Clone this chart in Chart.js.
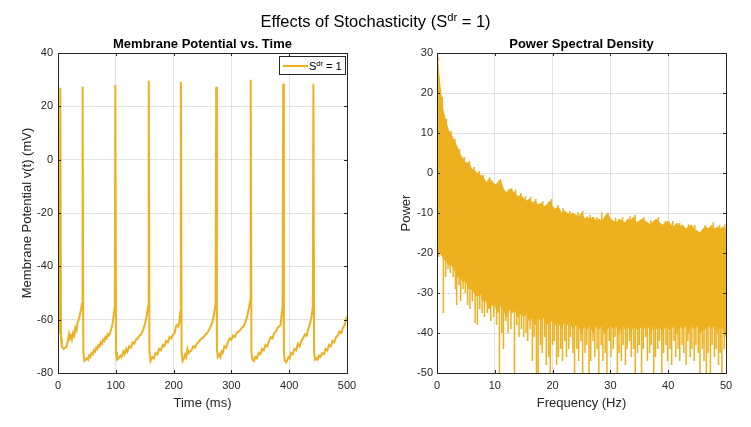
<!DOCTYPE html>
<html>
<head>
<meta charset="utf-8">
<script src="https://cdn.jsdelivr.net/npm/chart.js@4.4.0/dist/chart.umd.min.js"></script>
<style>
  body { margin: 0; background: #fff; font-family: "Liberation Sans", Arial, sans-serif; color: #000; }
  #wrap { position: relative; width: 751px; height: 427px; overflow: hidden; }
  canvas { position: absolute; top: 0; }
  #cv1 { left: 0; }
  #cv2 { left: 375px; }
  .txt { position: absolute; white-space: nowrap; line-height: 1; }
  #title { top: 13px; left: 0; width: 751px; text-align: center; font-size: 16.5px; }
  .sub { top: 37px; font-size: 13px; font-weight: bold; text-align: center; }
  #sub1 { left: 58px; width: 289px; }
  #sub2 { left: 437px; width: 289px; }
  sup { font-size: 0.68em; line-height: 0; vertical-align: 0.5em; }
  #leg { position: absolute; left: 279px; top: 56px; width: 67px; height: 19px; box-sizing: border-box;
         border: 1px solid #262626; background: #fff; font-size: 11px; }
  #leg .ln { position: absolute; left: 3px; top: 8px; width: 25px; height: 1.6px; background: #EDB120; }
  #leg .lt { position: absolute; left: 29px; top: 4px; line-height: 1; }
</style>
</head>
<body>
<div id="wrap">
  <canvas id="cv1" width="375" height="427"></canvas>
  <canvas id="cv2" width="376" height="427"></canvas>
  <div id="title" class="txt">Effects of Stochasticity (S<sup>dr</sup> = 1)</div>
  <div id="sub1" class="txt sub">Membrane Potential vs. Time</div>
  <div id="sub2" class="txt sub">Power Spectral Density</div>
  <div id="leg"><span class="ln"></span><span class="lt">S<sup>dr</sup> = 1</span></div>
</div>
<script>
// membrane potential trace (one line per spike cycle)
const vmTime = [
  0, 1.5, 3, 4, 5.2, 6.5, 8, 10, 13, 15, 17, 19, 20, 22, 24, 26, 28, 30, 32, 34, 36, 38, 40, 41.6, 42.6, 43.8, 45.5,
  48, 50, 52, 54, 56, 58, 60, 62, 64, 66, 68, 70, 72, 74, 76, 78, 80, 82, 84, 86, 88, 90, 92, 94, 96, 98.2, 99.2, 100.4, 102,
  105, 108, 110, 113, 115, 118, 120, 123, 126, 129, 132, 135, 138, 141, 144, 147, 150, 153, 156, 157, 158.2, 160,
  163, 166, 169, 172, 175, 178, 181, 184, 187, 190, 193, 196, 199, 202, 204, 206, 208, 210, 211.6, 212.6, 213.8, 215.5,
  218, 220, 222, 224, 226, 228, 231, 234, 237, 240, 243, 246, 249, 252, 255, 258, 261, 264, 267, 270, 272.7, 273.7, 274.9, 276.5,
  279, 281, 283, 285, 288, 291, 294, 297, 300, 303, 306, 309, 312, 315, 318, 321, 324, 327, 330, 332.4, 333.4, 334.6, 336.3,
  339, 341, 344, 347, 350, 353, 356, 359, 362, 365, 368, 371, 374, 377, 380, 383, 385, 387, 388.6, 389.6, 390.8, 392.5,
  395, 397, 399, 401, 403, 406, 409, 412, 415, 418, 421, 424, 427, 430, 433, 436, 438.5, 440.9, 441.9, 443.1, 444.8,
  447, 449, 451, 454, 457, 460, 463, 466, 469, 472, 475, 478, 481, 484, 487, 490, 493, 496, 498, 500
];
const vmVolt = [
  -65, -62, -56, 27, -67, -70, -70.5, -71, -70.5, -70, -68, -65.5, -67, -66, -67.5, -65, -66, -63, -64, -61, -60, -58, -56, -54, 27.3, -72, -75.5,
  -75, -74.5, -75, -73.5, -74, -72.5, -73, -71.5, -72, -70.5, -71, -69.5, -70, -68.5, -69, -67.5, -68, -66.5, -67, -65.5, -66, -65, -63.5, -62, -59, -55, 28, -72, -75,
  -74.5, -73.5, -74, -72, -73, -71, -72, -70, -70.5, -68.5, -69, -67.5, -67, -66, -65.5, -64, -62, -59, -55, 29.6, -72, -75.5,
  -74, -74.5, -72.5, -73, -71, -71.5, -69.5, -70, -68, -68.5, -66.5, -67, -65.5, -65, -62.5, -62, -62.5, -61, -57, 29.1, -72, -75.5,
  -74.5, -73, -74, -71, -72.5, -72, -71.5, -70, -70.5, -69, -68.5, -67.5, -67, -66.5, -65.5, -65, -64, -62.5, -61, -58, -54, 27.3, -71, -74,
  -73, -74, -72, -72.5, -70, -70.5, -68.5, -67, -67.5, -66, -66.5, -65, -64.5, -64, -63, -62.5, -61, -59, -56, -53, 30, -72, -75,
  -75.5, -74, -74.5, -72.5, -73, -71, -71.5, -69.5, -70, -68, -66.5, -67, -65, -64.5, -63, -62.5, -62, -58, -55, 28.5, -72, -75.5,
  -76, -75, -74, -74.5, -72.5, -73, -71, -71.5, -69, -70, -68, -67, -65.5, -66, -63.5, -61.5, -59, -55, 28.3, -72, -75,
  -74.5, -75, -73.5, -74, -72.5, -73, -71, -71.5, -69.5, -70, -68, -68.5, -66.5, -66, -64.5, -65, -63, -62, -60, -59
];

// power spectrum: upper edge and lower edge of the dense band, every 0.5 Hz from 0 to 50
const psdStep = 0.5;
const psdTop = [
  30, 22, 16, 13, 10.5, 9.5, 8, 6.5, 4.5, 3.5, 2.5, 2.5, 1, 0.5, 0, -0.5, -1, -2.5, -1.5, -2,
  -3, -2.5, -2, -4, -5, -4, -4.5, -5, -6, -5.5, -6.5, -7, -6.5, -7.5, -7, -8, -7.5, -8.5, -8, -7,
  -8.5, -9, -8.5, -10, -9.5, -10, -10.5, -10, -10.5, -11, -10, -11.5, -11, -11.5, -11, -12, -11.5, -12, -11, -10,
  -11.5, -12, -12.5, -11.5, -12, -12.5, -11.5, -12, -11, -12.5, -12, -11.5, -12, -12.5, -13, -12, -11.5, -12.5, -13, -12.5,
  -12, -13, -13.5, -12.5, -13.5, -13, -14, -13.5, -13, -14, -14.5, -15, -14, -13.5, -14, -13, -14, -13.5, -14, -13.5,
  -14
];
const psdBottom = [
  -15, -20, -21, -22, -23, -23, -24, -26, -26, -27, -27, -29, -29, -30, -31, -30, -32, -32, -34, -33,
  -33, -35, -33, -34, -36, -34, -35, -34, -36, -35, -36, -35, -37, -36, -38, -36, -37, -36, -38, -37,
  -37, -38, -37, -39, -37, -38, -37, -39, -38, -38, -40, -38, -39, -38, -40, -38, -39, -38, -40, -39,
  -38, -39, -38, -40, -38, -39, -38, -40, -38, -39, -39, -38, -39, -38, -40, -38, -39, -38, -40, -38,
  -39, -39, -38, -40, -38, -39, -38, -40, -38, -39, -38, -40, -39, -39, -38, -39, -38, -40, -38, -39,
  -41
];
// narrow upward spikes on the top edge of the band: [frequency (Hz), power]
const psdPeaks = [
  [0.2, 29], [0.9, 19], [1.6, 13.5], [2.4, 10.5], [3.1, 8.5], [3.9, 6], [4.7, 4], [5.6, 3], [6.4, 1.5], [7.3, 0.5],
  [8.0, -0.5], [9.1, -1], [10.7, -1.8], [11.0, -1.5], [12.9, -3.8], [13.6, -4.2], [14.5, -5], [15.3, -5.8], [16.2, -6],
  [17.1, -6.5], [18.3, -7], [19.8, -6.5], [20.9, -8], [21.8, -8.8], [23.0, -9.5], [24.4, -9.8], [25.2, -9.5], [26.5, -10.5],
  [27.6, -11], [28.5, -9.8], [29.6, -10], [30.9, -11.2], [32.1, -11], [33.4, -10.8], [34.3, -10.5], [35.8, -11], [37.0, -11.8],
  [38.3, -11], [39.5, -12], [40.8, -12], [42.0, -12.5], [43.5, -12.8], [44.6, -13], [46.4, -13], [47.8, -12.3], [48.9, -13],
  [49.8, -12.8]
];
// narrow downward spikes below the band: [frequency (Hz), power]
const psdDips = [
  [0.3, -21], [0.7, -19], [1.1, -35], [1.5, -26], [1.9, -24], [2.3, -25], [2.8, -26], [3.2, -29], [3.4, -33],
  [3.8, -28], [4.1, -32], [4.5, -29], [4.9, -30], [5.3, -33], [5.7, -34], [6.1, -32], [6.6, -37.5], [7.0, -38],
  [7.4, -34], [7.8, -35], [8.2, -36], [8.7, -35], [9.3, -37], [9.8, -36], [10.3, -38], [10.8, -50], [11.2, -40],
  [11.5, -44], [11.9, -37], [12.3, -40], [12.8, -39], [13.4, -50], [13.8, -38], [14.2, -41], [14.6, -39], [15.0, -41],
  [15.4, -40], [15.7, -42], [16.1, -39], [16.5, -47], [16.8, -41], [17.2, -50], [17.5, -50], [17.9, -43], [18.2, -45],
  [18.6, -41], [18.9, -48], [19.3, -46], [19.6, -50], [20.0, -43], [20.3, -42], [20.7, -48], [21.0, -46], [21.4, -44],
  [21.7, -47], [22.1, -42], [22.4, -46], [22.8, -44], [23.1, -41], [23.5, -45], [23.8, -50], [24.2, -44], [24.5, -47],
  [24.9, -42], [25.2, -50], [25.6, -45], [25.9, -43], [26.3, -50], [26.6, -47], [27.0, -42], [27.3, -46], [27.7, -44],
  [28.0, -50], [28.4, -43], [28.7, -47], [29.1, -45], [29.4, -50], [29.8, -42], [30.1, -46], [30.5, -44], [30.8, -41],
  [31.2, -50], [31.5, -45], [31.9, -47], [32.2, -43], [32.6, -48], [32.9, -44], [33.3, -42], [33.6, -46], [34.0, -44],
  [34.3, -50], [34.7, -45], [35.0, -43], [35.4, -50], [35.7, -44], [36.1, -41], [36.4, -47], [36.8, -45], [37.1, -43],
  [37.5, -50], [37.8, -46], [38.2, -44], [38.5, -42], [38.9, -50], [39.2, -45], [39.6, -43], [39.9, -47], [40.3, -44],
  [40.6, -48], [41.0, -42], [41.3, -46], [41.7, -44], [42.0, -47], [42.4, -43], [42.7, -45], [43.1, -48], [43.4, -42],
  [43.8, -46], [44.1, -44], [44.5, -47], [44.8, -43], [45.2, -45], [45.5, -50], [45.9, -44], [46.2, -47], [46.6, -50],
  [46.9, -45], [47.3, -50], [47.6, -43], [48.0, -46], [48.3, -44], [48.7, -48], [49.0, -45], [49.3, -50], [49.7, -44]
];

const lineColor = '#EDB120';
const tickFont = { family: 'Liberation Sans', size: 11 };
const titleFont = { family: 'Liberation Sans', size: 13 };
const gridColor = 'rgba(0,0,0,0.11)';

// box around the axes with short inward ticks on all four sides
const axesBox = {
  id: 'axesBox',
  afterDraw(chart) {
    const { ctx, chartArea: a, scales } = chart;
    const x = scales.x, y = scales.y;
    ctx.save();
    ctx.strokeStyle = '#262626';
    ctx.lineWidth = 1;
    ctx.beginPath();
    x.ticks.forEach(t => {
      const px = Math.round(x.getPixelForValue(t.value)) + 0.5;
      ctx.moveTo(px, a.bottom); ctx.lineTo(px, a.bottom - 3);
      ctx.moveTo(px, a.top); ctx.lineTo(px, a.top + 3);
    });
    y.ticks.forEach(t => {
      const py = Math.round(y.getPixelForValue(t.value)) + 0.5;
      ctx.moveTo(a.left, py); ctx.lineTo(a.left + 3, py);
      ctx.moveTo(a.right, py); ctx.lineTo(a.right - 3, py);
    });
    ctx.stroke();
    ctx.strokeRect(a.left + 0.5, a.top + 0.5, a.right - a.left, a.bottom - a.top);
    ctx.restore();
  }
};

function axisOptions(o) {
  return {
    x: {
      type: 'linear', min: o.xMin, max: o.xMax,
      afterFit(s) { s.height = 54; },
      grid: { color: gridColor, drawTicks: false },
      border: { display: false },
      ticks: { stepSize: o.xStep, padding: 6, color: '#262626', font: tickFont, maxRotation: 0 },
      title: { display: true, text: o.xTitle, color: '#262626', font: titleFont, padding: { top: 0, bottom: 16 } }
    },
    y: {
      min: o.yMin, max: o.yMax,
      afterFit(s) { s.width = o.yWidth; },
      grid: { color: gridColor, drawTicks: false },
      border: { display: false },
      ticks: { stepSize: o.yStep, padding: o.yPad, color: '#262626', font: tickFont },
      title: { display: true, text: o.yTitle, color: '#262626', font: titleFont, padding: { top: o.yTitlePad, bottom: 0 } }
    }
  };
}

const common = {
  responsive: false,
  animation: false,
  events: [],
  plugins: { legend: { display: false }, tooltip: { enabled: false } },
  elements: { point: { radius: 0 }, line: { tension: 0 } }
};

new Chart(document.getElementById('cv1').getContext('2d'), {
  type: 'line',
  data: {
    datasets: [{
      data: vmTime.map((t, i) => ({ x: t, y: vmVolt[i] })),
      borderColor: lineColor, borderWidth: 2, borderJoinStyle: 'miter', fill: false
    }]
  },
  options: Object.assign({}, common, {
    layout: { padding: { top: 53, right: 28, left: 0, bottom: 0 } },
    scales: axisOptions({
      xMin: 0, xMax: 500, xStep: 100, xTitle: 'Time (ms)',
      yMin: -80, yMax: 40, yStep: 20, yTitle: 'Membrane Potential v(t) (mV)',
      yWidth: 58, yPad: 5, yTitlePad: 20
    })
  }),
  plugins: [axesBox]
});

const topPts = psdTop.map((v, i) => ({ x: i * psdStep, y: v }));
const bottomPts = psdBottom.map((v, i) => ({ x: i * psdStep, y: v }));
const spikePts = [];
psdDips.forEach(([f, p]) => {
  spikePts.push({ x: f, y: psdBottom[Math.round(f / psdStep)] + 2 });
  spikePts.push({ x: f, y: p });
  spikePts.push({ x: f, y: null });
});
psdPeaks.forEach(([f, p]) => {
  spikePts.push({ x: f, y: psdTop[Math.round(f / psdStep)] - 2 });
  spikePts.push({ x: f, y: p });
  spikePts.push({ x: f, y: null });
});

new Chart(document.getElementById('cv2').getContext('2d'), {
  type: 'line',
  data: {
    datasets: [
      { data: topPts, borderColor: lineColor, borderWidth: 1, backgroundColor: lineColor, fill: '+1' },
      { data: bottomPts, borderColor: lineColor, borderWidth: 1, fill: false },
      { data: spikePts, borderColor: lineColor, borderWidth: 1.5, fill: false, spanGaps: false }
    ]
  },
  options: Object.assign({}, common, {
    layout: { padding: { top: 53, right: 25, left: 0, bottom: 0 } },
    scales: axisOptions({
      xMin: 0, xMax: 50, xStep: 10, xTitle: 'Frequency (Hz)',
      yMin: -50, yMax: 30, yStep: 10, yTitle: 'Power',
      yWidth: 62, yPad: 4, yTitlePad: 24
    })
  }),
  plugins: [axesBox]
});
</script>
</body>
</html>
